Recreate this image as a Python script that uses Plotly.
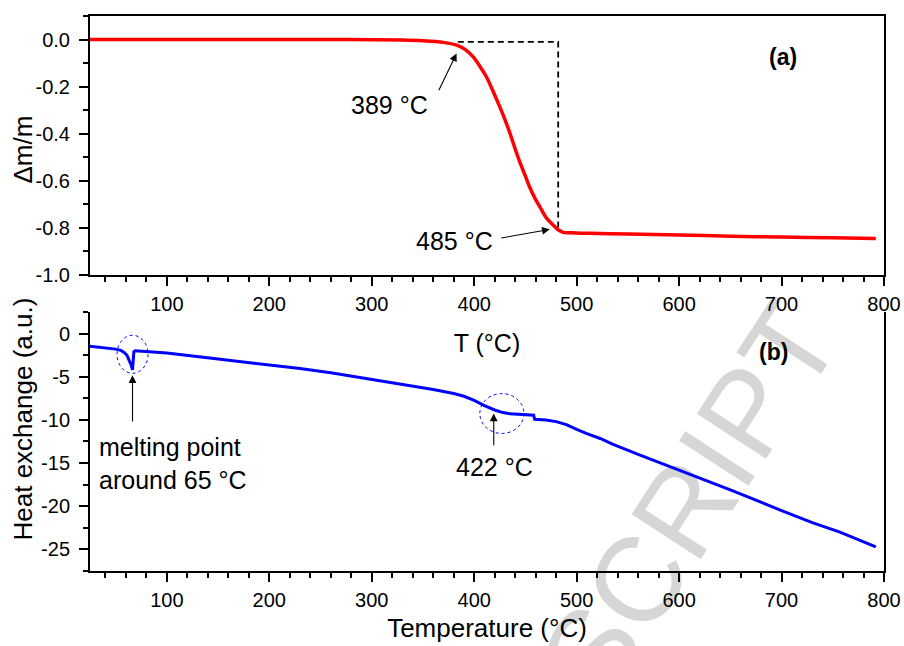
import plotly.graph_objects as go

# ---------------- data ----------------
# (a) TG curve: temperature (°C) vs relative mass change
tg_temp = [25, 100, 200, 280, 330, 350, 370, 383, 392, 399, 405, 412, 418, 425, 430,
           435, 440, 445, 450, 454, 460, 464, 470, 477, 482, 487, 495, 513, 550, 600,
           650, 700, 750, 792]
tg_dm = [0.0, 0.0, 0.0, 0.0, -0.002, -0.005, -0.012, -0.024, -0.045, -0.074, -0.11,
         -0.159, -0.215, -0.286, -0.34, -0.399, -0.465, -0.526, -0.58, -0.625, -0.68,
         -0.71, -0.755, -0.788, -0.808, -0.819, -0.821, -0.823, -0.826, -0.830, -0.835,
         -0.839, -0.842, -0.845]

# tangent construction (dashed guide)
guide_temp = [384, 482, 482]
guide_dm = [-0.01, -0.01, -0.80]

# (b) DSC curve: temperature (°C) vs heat exchange (a.u.)
dsc_temp = [25, 40, 50, 55, 58, 61, 63, 65, 66.5, 67.2, 67.8, 69, 75, 100, 150, 200,
            230, 260, 295, 330, 360, 380, 390, 400, 410, 420, 428, 435, 445, 455, 458,
            459, 470, 480, 490, 500, 510, 523, 535, 560, 600, 650, 700, 730, 757, 792]
dsc_heat = [-1.47, -1.62, -1.8, -1.95, -2.15, -2.5, -3.0, -3.6, -4.2, -3.1, -2.1, -2.0,
            -2.05, -2.25, -2.95, -3.6, -4.05, -4.55, -5.2, -5.85, -6.48, -6.95, -7.26,
            -7.75, -8.35, -8.85, -9.15, -9.3, -9.38, -9.42, -9.45, -9.92, -10.0, -10.2,
            -10.55, -11.1, -11.6, -12.15, -12.8, -14.0, -15.8, -18.1, -20.5, -21.9,
            -23.0, -24.7]

# tick labels
x_tickvals = [100, 200, 300, 400, 500, 600, 700, 800]
x_ticktext = ["100", "200", "300", "400", "500", "600", "700", "800"]
ya_tickvals = [0.0, -0.2, -0.4, -0.6, -0.8, -1.0]
ya_ticktext = ["0.0", "-0.2", "-0.4", "-0.6", "-0.8", "-1.0"]
yb_tickvals = [0, -5, -10, -15, -20, -25]
yb_ticktext = ["0", "-5", "-10", "-15", "-20", "-25"]

FONT = "Liberation Sans, Arial, Helvetica, sans-serif"

# plot-area geometry (px) used to place paper-referenced labels
L, R, T, B = 90, 20, 16, 75
W, H = 904, 646
PW, PH = W - L - R, H - T - B


def px_to_paper(px, py):
    return (px - L) / PW, (H - B - py) / PH


fig = go.Figure()
fig.add_trace(go.Scatter(x=guide_temp, y=guide_dm, mode="lines",
                         line=dict(color="black", width=1.8, dash="6px,4px"),
                         xaxis="x", yaxis="y", showlegend=False, hoverinfo="skip"))
fig.add_trace(go.Scatter(x=tg_temp, y=tg_dm, mode="lines",
                         line=dict(color="#ff0000", width=3.5, shape="spline", smoothing=0.6),
                         xaxis="x", yaxis="y", showlegend=False))
fig.add_trace(go.Scatter(x=dsc_temp, y=dsc_heat, mode="lines",
                         line=dict(color="#0000ff", width=3),
                         xaxis="x2", yaxis="y2", showlegend=False))

axis_common = dict(
    showgrid=False, zeroline=False, showline=True, linecolor="black", linewidth=2,
    ticks="outside", ticklen=9, tickwidth=2, tickcolor="black", automargin=False,
    tickfont=dict(family=FONT, size=20, color="black"),
)

fig.update_layout(
    width=W, height=H,
    margin=dict(l=L, r=R, t=T, b=B, autoexpand=False),
    paper_bgcolor="white", plot_bgcolor="rgba(0,0,0,0)",
    font=dict(family=FONT, color="black"),
    xaxis=dict(axis_common, domain=[0, 1], anchor="y", range=[25, 800],
               tickmode="array", tickvals=x_tickvals, ticktext=x_ticktext,
               minor=dict(ticks="outside", ticklen=5, tickwidth=2, dtick=20, tick0=0,
                          tickcolor="black"),
               mirror=True, ticklabelstandoff=1,
               title=dict(text="T (°C)", font=dict(family=FONT, size=25), standoff=20)),
    yaxis=dict(axis_common, domain=[0.5333, 1], anchor="x", range=[-1.0, 0.1],
               tickmode="array", tickvals=ya_tickvals, ticktext=ya_ticktext,
               minor=dict(ticks="outside", ticklen=5, tickwidth=2, dtick=0.1, tick0=0,
                          tickcolor="black"),
               mirror=True, ticklabelstandoff=5),
    xaxis2=dict(axis_common, domain=[0, 1], anchor="y2", range=[25, 800],
                tickmode="array", tickvals=x_tickvals, ticktext=x_ticktext,
                minor=dict(ticks="outside", ticklen=5, tickwidth=2, dtick=20, tick0=0,
                           tickcolor="black"),
                mirror=False, ticklabelstandoff=1,
                title=dict(text="Temperature (°C)", font=dict(family=FONT, size=26),
                           standoff=9)),
    yaxis2=dict(axis_common, domain=[0, 0.4667], anchor="x2", range=[-27.5, 2.5],
                tickmode="array", tickvals=yb_tickvals, ticktext=yb_ticktext,
                minor=dict(ticks="outside", ticklen=5, tickwidth=2, dtick=2.5, tick0=0,
                           tickcolor="black"),
                mirror=True, ticklabelstandoff=5),
)

ya_x, ya_y = px_to_paper(22.5, 150)
yb_x, yb_y = px_to_paper(22.5, 419)

ann_font = dict(family=FONT, size=25, color="black")
annotations = [
    # panel labels
    dict(x=701.6, y=-0.075, xref="x", yref="y", text="<b>(a)</b>", showarrow=False,
         font=dict(family=FONT, size=23, color="black")),
    dict(x=692.3, y=-2.16, xref="x2", yref="y2", text="<b>(b)</b>", showarrow=False,
         font=dict(family=FONT, size=23, color="black")),
    # y titles
    dict(x=ya_x, y=ya_y, xref="paper", yref="paper", text="Δm/m", textangle=-90,
         xanchor="center", yanchor="middle", showarrow=False,
         font=dict(family=FONT, size=26, color="black")),
    dict(x=yb_x, y=yb_y, xref="paper", yref="paper", text="Heat exchange (a.u.)",
         textangle=-90, xanchor="center", yanchor="middle", showarrow=False,
         font=dict(family=FONT, size=26, color="black")),
    # TG annotations
    dict(x=317.2, y=-0.279, xref="x", yref="y", text="389 °C", showarrow=False, font=ann_font),
    dict(x=382.8, y=-0.059, ax=364.8, ay=-0.222, xref="x", yref="y", axref="x", ayref="y",
         text="", showarrow=True, arrowhead=2, arrowsize=1.4, arrowwidth=1.1,
         arrowcolor="black", standoff=0),
    dict(x=381.1, y=-0.855, xref="x", yref="y", text="485 °C", showarrow=False, font=ann_font),
    dict(x=473.8, y=-0.806, ax=425, ay=-0.844, xref="x", yref="y", axref="x", ayref="y",
         text="", showarrow=True, arrowhead=2, arrowsize=1.4, arrowwidth=1.1,
         arrowcolor="black", standoff=0),
    # DSC annotations
    dict(x=31.8, y=-15.0, xref="x2", yref="y2", text="melting point<br>around 65 °C",
         align="left", xanchor="left", showarrow=False, font=ann_font),
    dict(x=66.5, y=-4.83, ax=66.5, ay=-10.35, xref="x2", yref="y2", axref="x2", ayref="y2",
         text="", showarrow=True, arrowhead=2, arrowsize=1.4, arrowwidth=1.1,
         arrowcolor="black", standoff=0),
    dict(x=420.1, y=-15.4, xref="x2", yref="y2", text="422 °C", showarrow=False, font=ann_font),
    dict(x=419.1, y=-9.26, ax=419.1, ay=-13.1, xref="x2", yref="y2", axref="x2", ayref="y2",
         text="", showarrow=True, arrowhead=2, arrowsize=1.4, arrowwidth=1.1,
         arrowcolor="black", standoff=0),
]
fig.update_layout(annotations=annotations)

wm_x, wm_y = px_to_paper(680, 494)
shapes = [
    # watermark (drawn below the traces)
    dict(type="rect", xref="paper", yref="paper",
         x0=wm_x - 0.001, x1=wm_x + 0.001, y0=wm_y - 0.001, y1=wm_y + 0.001, layer="below",
         line=dict(width=0), fillcolor="rgba(0,0,0,0)",
         label=dict(text="SCRIPT", textangle=-57, textposition="middle center",
                    font=dict(family=FONT, size=120, color="#d6d6d6"))),
    # dashed circles
    dict(type="circle", xref="x2", yref="y2", x0=51.4, x1=81.6, y0=-4.6, y1=-0.2,
         line=dict(color="#0000ff", width=1, dash="3px,3px")),
    dict(type="circle", xref="x2", yref="y2", x0=405.5, x1=448.5, y0=-11.57, y1=-6.95,
         line=dict(color="#0000ff", width=1, dash="3px,3px")),
]
fig.update_layout(shapes=shapes)

fig.write_html("out.html", config={"displayModeBar": False},
               post_script="document.body.style.margin='0px';")
